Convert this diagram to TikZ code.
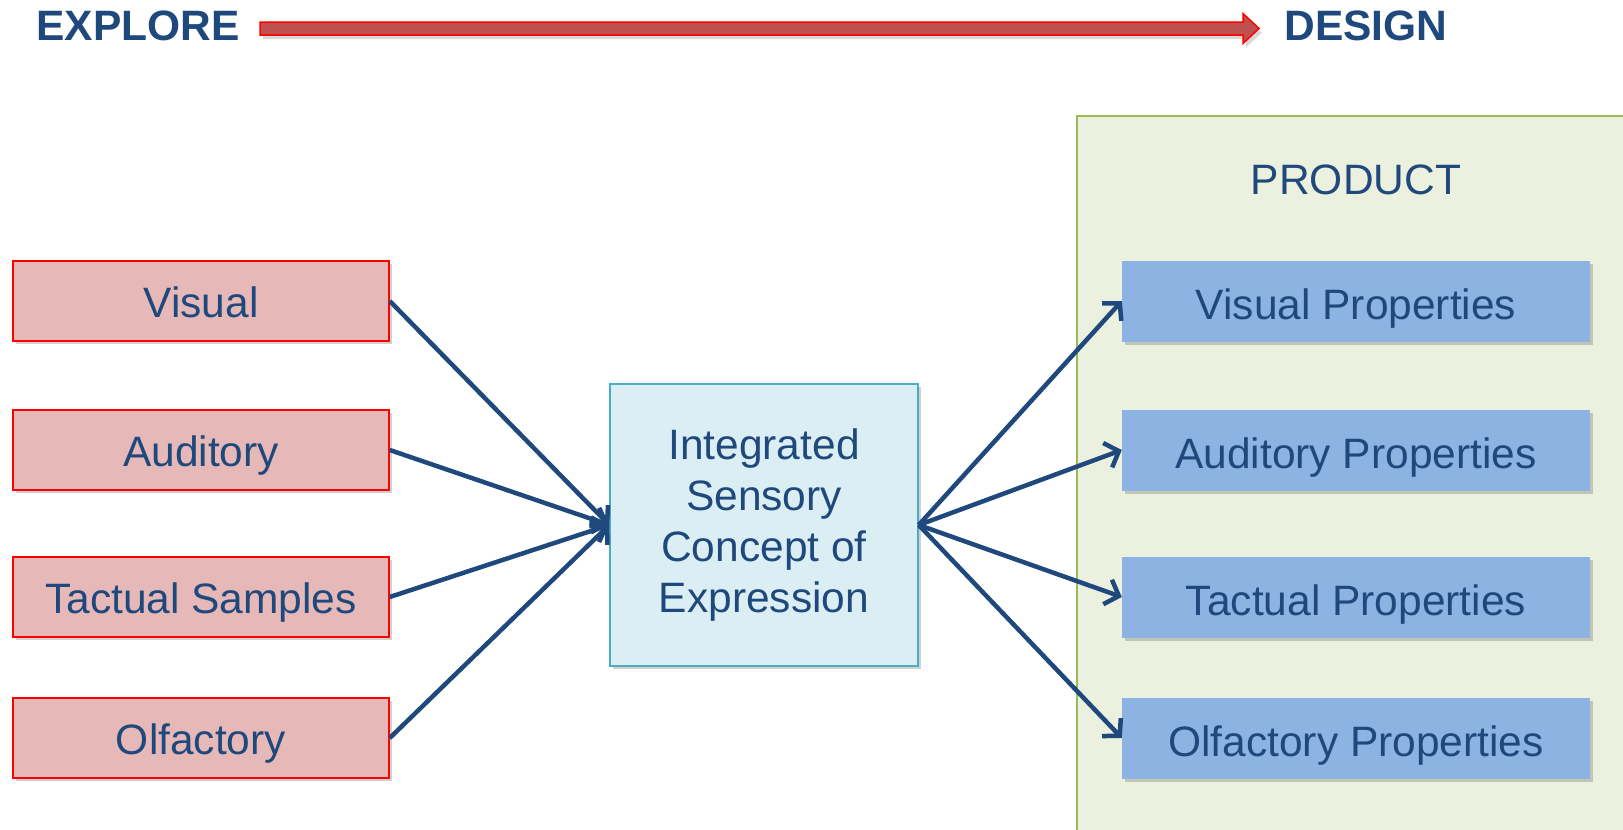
\documentclass[tikz,border=0pt]{standalone}
\usepackage{fontspec}
\setmainfont{Liberation Sans}
\usetikzlibrary{positioning, arrows.meta, calc, shadows}

\definecolor{textblue}{HTML}{1F497D}
\definecolor{linkblue}{HTML}{1F497D}
\definecolor{sensefill}{HTML}{E6B9B8}
\definecolor{conceptfill}{HTML}{DBEEF4}
\definecolor{conceptline}{HTML}{4BACC6}
\definecolor{panelfill}{HTML}{EBF1DE}
\definecolor{panelline}{HTML}{9BBB59}
\definecolor{propfill}{HTML}{8DB3E2}
\definecolor{bararrow}{HTML}{C0504D}

\begin{document}
\begin{tikzpicture}[
  x=1pt, y=-1pt,
  every node/.style={text=textblue, font=\fontsize{42.5}{51}\selectfont},
  softshadow/.style={drop shadow={shadow xshift=3pt, shadow yshift=-3pt, opacity=0.18, fill=black}},
  headline/.style={font=\fontsize{42.5}{51}\selectfont\bfseries},
  sensebox/.style={draw=red, line width=1.5pt, fill=sensefill, minimum width=376pt, minimum height=80pt, inner sep=0pt, text height=32pt, text depth=0pt, softshadow},
  propbox/.style={fill=propfill, minimum width=468pt, minimum height=81pt, inner sep=0pt, text height=37pt, text depth=0pt, softshadow},
  conceptbox/.style={draw=conceptline, line width=1.5pt, fill=conceptfill, minimum width=308pt, minimum height=282pt, align=center, inner sep=0pt, softshadow},
  link/.style={draw=linkblue, line width=4.5pt, -{Straight Barb[length=12pt, width=26pt]}}
]
\useasboundingbox (0,0) rectangle (1623,830);

% header
\node[headline, anchor=base west] (explore) at (33,40) {EXPLORE};
\node[headline, anchor=base west] (design) at (1281,40) {DESIGN};
\coordinate (barstart) at (260,28.5);
\coordinate (bartip) at (1259,28.5);
\fill[black, opacity=0.15] ($(barstart)+(3,4)$) -- ++(983,0) -- ++(0,-8.5) -- ($(bartip)+(3,4)$) -- ++(-16,15) -- ++(0,-8.5) -- ++(-983,0) -- cycle;
\draw[red, line width=1.5pt, fill=bararrow] ($(barstart)+(0,-6.5)$) -- ($(bartip)+(-16,-6.5)$) -- ($(bartip)+(-16,-15)$)
  -- (bartip) -- ($(bartip)+(-16,15)$) -- ($(bartip)+(-16,6.5)$) -- ($(barstart)+(0,6.5)$) -- cycle;

% product panel
\draw[panelline, line width=1.5pt, fill=panelfill] (1077,116) rectangle (1650,860);
\node[anchor=base] (product) at (1356,194) {PRODUCT};

% senses
\node[sensebox] (visual) at (201,301) {Visual};
\node[sensebox] (auditory) at (201,450) {Auditory};
\node[sensebox] (tactual) at (201,597) {Tactual Samples};
\node[sensebox] (olfactory) at (201,738) {Olfactory};

% concept
\node[conceptbox] (concept) at (764,525) {Integrated\\Sensory\\Concept of\\Expression};

% properties
\node[propbox] (visprop) at (1356,301) {Visual Properties};
\node[propbox] (audprop) at (1356,450) {Auditory Properties};
\node[propbox] (tacprop) at (1356,597) {Tactual Properties};
\node[propbox] (olfprop) at (1356,738) {Olfactory Properties};

\draw[link] (visual.east) -- (concept.west);
\draw[link] (auditory.east) -- (concept.west);
\draw[link] (tactual.east) -- (concept.west);
\draw[link] (olfactory.east) -- (concept.west);

\draw[link] (concept.east) -- (visprop.west);
\draw[link] (concept.east) -- (audprop.west);
\draw[link] (concept.east) -- (tacprop.west);
\draw[link] (concept.east) -- (olfprop.west);

\end{tikzpicture}
\end{document}
